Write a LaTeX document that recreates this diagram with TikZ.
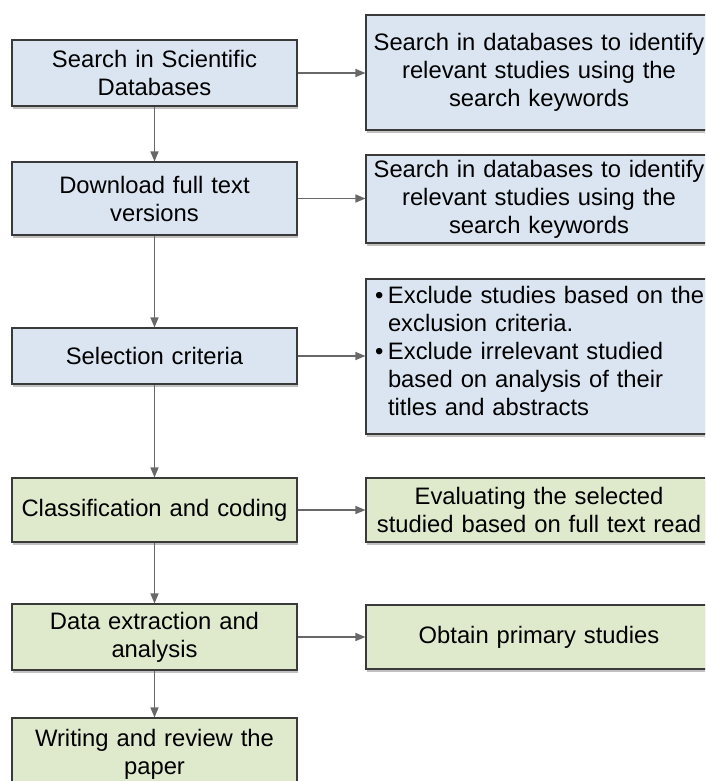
\documentclass[tikz,border=0pt]{standalone}
\usepackage{fontspec}
\setmainfont{Liberation Sans}
\usepackage{tikz}
\usetikzlibrary{shadows}
\usetikzlibrary{arrows.meta,arrows}
\definecolor{boxblue}{HTML}{DBE5F1}
\definecolor{boxgreen}{HTML}{DFE9CC}
\definecolor{boxline}{HTML}{3A3A3A}
\definecolor{linkgray}{HTML}{686868}
\newcommand{\ccL}{154.5}
\newcommand{\ccR}{539}
\newcommand{\itm}[1]{\hangindent=18pt\hangafter=1\noindent\hspace*{5pt}\makebox[13pt][l]{\textbullet}#1\par}

\begin{document}
\begin{tikzpicture}[x=1pt, y=1pt,
	box/.style = {draw=boxline, line width=1.1pt, inner sep=0pt,
		font=\fontsize{23.8}{28}\selectfont, align=center,
		drop shadow={shadow xshift=1pt, shadow yshift=-3pt, opacity=.35, fill=black!70}},
	lbox/.style = {box, minimum width=285, text width=280},
	rbox/.style = {box, minimum width=346, text width=340},
	link/.style = {draw=linkgray, line width=1.4pt, -{Triangle[length=10pt, width=8pt]}}]

		\useasboundingbox (0, 0) rectangle (705, -781);
		\clip (0, 0) rectangle (705, -781);
		% Left column
		\node[lbox, fill=boxblue, minimum height=66] (search) at (\ccL, -73) {Search in Scientific\\Databases};
		\node[lbox, fill=boxblue, minimum height=73] (download) at (\ccL, -198.5) {Download full text\\versions};
		\node[lbox, fill=boxblue, minimum height=56] (select) at (\ccL, -356) {Selection criteria};
		\node[lbox, fill=boxgreen, minimum height=64] (classify) at (\ccL, -510) {Classification and coding};
		\node[lbox, fill=boxgreen, minimum height=66] (extract) at (\ccL, -637) {Data extraction and\\analysis};
		\node[lbox, fill=boxgreen, minimum height=72] (writing) at (\ccL, -754) {Writing and review the\\paper};
		% Right column
		\node[rbox, fill=boxblue, minimum height=155, align=left, text width=338,
			text height=17.3, text depth=124] (exclude) at (\ccR, -356.5)
			{\itm{Exclude studies based on the\newline exclusion criteria.}\itm{Exclude irrelevant studied\newline based on analysis of their\newline titles and abstracts}};
		\node[rbox, fill=boxblue, minimum height=115] (identA) at (\ccR, -72.5) {Search in databases to identify\\relevant studies using the\\search keywords};
		\node[rbox, fill=boxblue, minimum height=88] (identB) at (\ccR, -199) {Search in databases to identify\\relevant studies using the\\search keywords};
		\node[rbox, fill=boxgreen, minimum height=64] (evaluate) at (\ccR, -510) {Evaluating the selected\\studied based on full text read};
		\node[rbox, fill=boxgreen, minimum height=64] (obtain) at (\ccR, -637) {Obtain primary studies};
		% Down
		\draw[link] (search) -- (download);
		\draw[link] (download) -- (select);
		\draw[link] (select) -- (classify);
		\draw[link] (classify) -- (extract);
		\draw[link] (extract) -- (writing);
		% Across
		\draw[link] (search.east) -- (search.east -| identA.west);
		\draw[link] (download.east) -- (download.east -| identB.west);
		\draw[link] (select.east) -- (select.east -| exclude.west);
		\draw[link] (classify.east) -- (classify.east -| evaluate.west);
		\draw[link] (extract.east) -- (extract.east -| obtain.west);
	\end{tikzpicture}
\end{document}
